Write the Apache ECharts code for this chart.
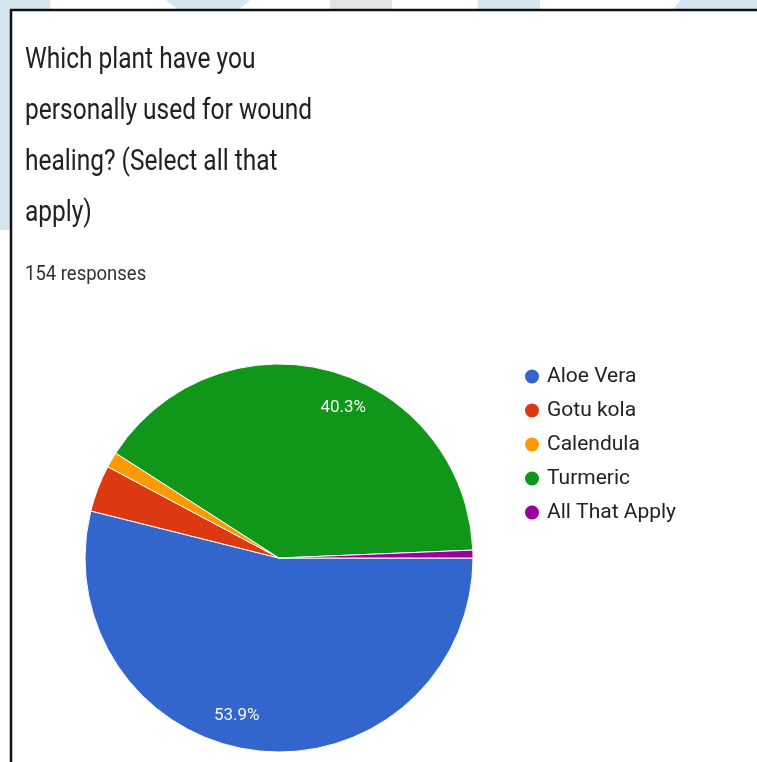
<!DOCTYPE html>
<html>
<head>
<meta charset="utf-8">
<script src="https://cdn.jsdelivr.net/npm/echarts@6/dist/echarts.min.js"></script>
<style>
  html, body { margin: 0; padding: 0; background: #ffffff; }
  #chart { width: 757px; height: 762px; }
</style>
</head>
<body>
<div id="chart"></div>
<script>
// Survey answers (154 responses)
const categories = ['Aloe Vera', 'Gotu kola', 'Calendula', 'Turmeric', 'All That Apply'];
const counts = [83, 6, 2, 62, 1];
const colors = ['#3366cc', '#dc3912', '#ff9900', '#109618', '#990099'];
const questionText = 'Which plant have you\npersonally used for wound\nhealing? (Select all that\napply)';
const responsesText = '154 responses';

const FONT = 'Roboto, "Noto Sans", sans-serif';

const chart = echarts.init(document.getElementById('chart'), null, { renderer: 'canvas' });

const total = counts.reduce((a, b) => a + b, 0);
const pieData = categories.map((name, i) => ({ name, value: counts[i] }));

const option = {
  backgroundColor: '#ffffff',
  animation: false,
  color: colors,
  graphic: [
    // soft decorative shapes behind the card edge
    { type: 'rect', shape: { x: 0, y: 0, width: 50, height: 10 }, style: { fill: '#d5e6f0' }, z: 0 },
    { type: 'rect', shape: { x: 0, y: 0, width: 10, height: 230 }, style: { fill: '#d5e6f0' }, z: 0 },
    { type: 'circle', shape: { cx: 208, cy: -40, r: 58 }, style: { fill: '#d5e6f0' }, z: 0 },
    { type: 'rect', shape: { x: 330, y: 0, width: 62, height: 10 }, style: { fill: '#e3e3e3' }, z: 0 },
    { type: 'rect', shape: { x: 478, y: 0, width: 62, height: 10 }, style: { fill: '#d5e6f0' }, z: 0 },
    { type: 'circle', shape: { cx: 720, cy: 40, r: 56 }, style: { fill: '#d5e6f0' }, z: 0 },
    // card background and frame
    { type: 'rect', shape: { x: 11, y: 10, width: 760, height: 770 }, style: { fill: '#ffffff' }, z: 1 },
    { type: 'line', shape: { x1: 10, y1: 10, x2: 757, y2: 10 }, style: { stroke: '#111111', lineWidth: 2.5 }, z: 2 },
    { type: 'line', shape: { x1: 11, y1: 9, x2: 11, y2: 762 }, style: { stroke: '#111111', lineWidth: 2.5 }, z: 2 },
    // question heading, set in a narrowed face
    {
      type: 'text',
      x: 25,
      y: 35,
      scaleX: 0.83,
      z: 3,
      style: {
        text: questionText,
        font: 'normal 29.5px ' + FONT,
        lineHeight: 51,
        fill: '#202124',
        textVerticalAlign: 'top'
      }
    },
    // response count
    {
      type: 'text',
      x: 25,
      y: 264,
      scaleX: 0.88,
      z: 3,
      style: {
        text: responsesText,
        font: 'normal 21px ' + FONT,
        fill: '#303134',
        textVerticalAlign: 'top'
      }
    }
  ],
  legend: {
    orient: 'vertical',
    left: 518,
    top: 361,
    icon: 'circle',
    itemWidth: 16,
    itemHeight: 16,
    itemGap: 13,
    data: categories,
    textStyle: {
      fontFamily: FONT,
      fontSize: 21,
      color: '#222222',
      padding: [0, 0, 0, 2]
    }
  },
  series: [
    {
      // the slices
      type: 'pie',
      center: [279, 558],
      radius: [0, 194],
      startAngle: 0,
      clockwise: true,
      avoidLabelOverlap: false,
      itemStyle: { borderColor: '#ffffff', borderWidth: 1 },
      label: { show: false },
      labelLine: { show: false },
      emphasis: { disabled: true },
      data: pieData
    },
    {
      // percentage labels, set out toward the rim and turned slightly clockwise
      type: 'pie',
      center: [279, 558],
      radius: [126, 194],
      startAngle: -8,
      clockwise: true,
      silent: true,
      avoidLabelOverlap: false,
      itemStyle: { color: 'rgba(0,0,0,0)', borderWidth: 0 },
      label: {
        show: true,
        position: 'inside',
        fontFamily: FONT,
        fontSize: 17,
        color: '#f4f7f4',
        formatter: (p) => {
          const pct = p.value / total * 100;
          return pct >= 5 ? pct.toFixed(1) + '%' : '';
        }
      },
      labelLine: { show: false },
      emphasis: { disabled: true },
      data: pieData
    }
  ]
};

chart.setOption(option);
</script>
</body>
</html>
